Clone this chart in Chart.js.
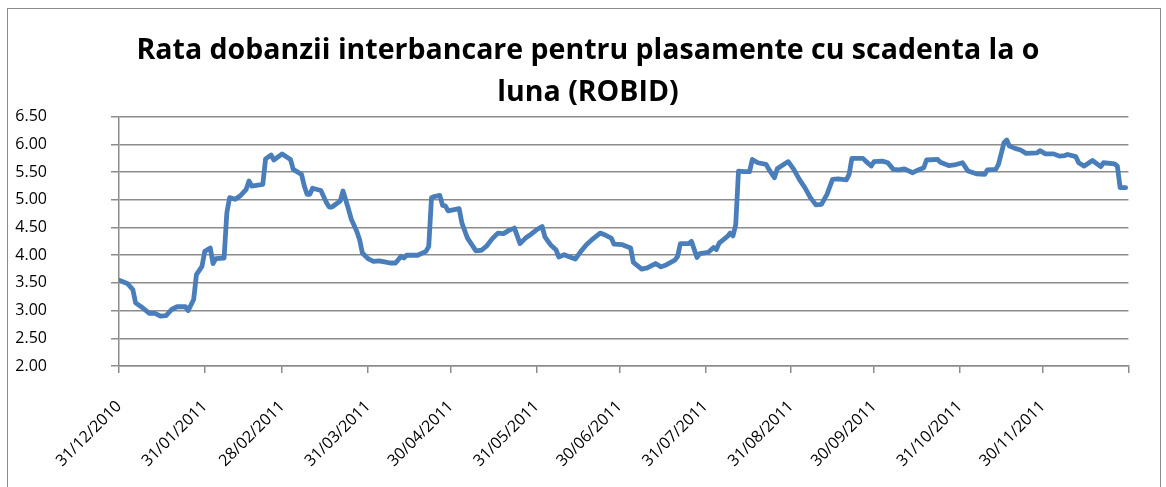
<!DOCTYPE html>
<html lang="ro">
<head>
    <meta charset="UTF-8">
    <title>ROBID 1 luna</title>
    <script src="https://cdn.jsdelivr.net/npm/chart.js"></script>
    <style>
        body {
            margin: 0;
            padding: 0;
            background: #ffffff;
            overflow: hidden;
        }

        .frame {
            position: absolute;
            left: 7px;
            top: 8px;
            width: 1152px;
            height: 520px;
            border: 1.5px solid #8c8c8c;
        }

        .wrap {
            position: absolute;
            left: 0;
            top: 0;
            width: 1166px;
            height: 487px;
        }
    </style>
</head>
<body>
    <div class="frame"></div>
    <div class="wrap">
        <canvas id="robidChart" width="1166" height="487"></canvas>
    </div>

    <script>
        // days counted from 31/12/2010
        const dayOffsets = [
            0, 3, 5, 6, 8, 11, 13, 15, 17, 19, 21, 24, 25, 27, 28, 30, 31, 33, 34, 35,
            38, 39, 40, 42, 44, 46, 47, 48, 52, 53, 55, 56, 59, 62, 63, 66, 67, 68, 69, 70,
            73, 75, 76, 77, 80, 81, 83, 84, 86, 87, 88, 90, 92, 94, 96, 98, 100, 102, 103, 104,
            108, 111, 112, 113, 114, 116, 117, 118, 119, 123, 124, 126, 128, 129, 131, 133, 135, 137, 139, 141,
            143, 145, 147, 149, 151, 153, 154, 156, 158, 159, 161, 163, 165, 167, 169, 171, 174, 176, 178, 179,
            182, 185, 186, 189, 191, 194, 196, 198, 201, 202, 203, 206, 207, 209, 210, 213, 215, 216, 217, 220,
            221, 222, 223, 224, 226, 228, 229, 231, 234, 235, 237, 238, 241, 242, 244, 246, 248, 250, 252, 254,
            256, 258, 260, 263, 264, 265, 269, 270, 272, 273, 276, 278, 280, 282, 284, 287, 289, 291, 292, 296,
            297, 300, 302, 305, 307, 310, 313, 314, 317, 318, 320, 321, 322, 324, 326, 328, 332, 333, 335, 338,
            340, 342, 343, 346, 347, 349, 352, 355, 356, 360, 361, 362, 364
        ];

        const robidValues = [
            3.55, 3.49, 3.38, 3.14, 3.07, 2.95, 2.95, 2.90, 2.91, 3.02, 3.07, 3.07, 3.00, 3.20, 3.65, 3.80, 4.07, 4.13, 3.85, 3.94,
            3.95, 4.77, 5.04, 5.01, 5.08, 5.19, 5.34, 5.25, 5.28, 5.74, 5.81, 5.72, 5.83, 5.73, 5.55, 5.46, 5.25, 5.10, 5.10, 5.21,
            5.17, 4.95, 4.87, 4.87, 4.98, 5.16, 4.83, 4.65, 4.43, 4.28, 4.04, 3.94, 3.89, 3.90, 3.88, 3.86, 3.86, 3.98, 3.95, 4.00,
            4.00, 4.07, 4.16, 5.04, 5.06, 5.08, 4.90, 4.89, 4.80, 4.84, 4.58, 4.31, 4.16, 4.08, 4.09, 4.17, 4.30, 4.40, 4.39, 4.45,
            4.49, 4.21, 4.31, 4.38, 4.46, 4.52, 4.33, 4.19, 4.10, 3.97, 4.01, 3.97, 3.93, 4.07, 4.19, 4.28, 4.40, 4.36, 4.31, 4.20,
            4.19, 4.13, 3.87, 3.75, 3.77, 3.85, 3.79, 3.83, 3.91, 3.98, 4.21, 4.21, 4.25, 3.96, 4.03, 4.05, 4.14, 4.10, 4.22, 4.34,
            4.40, 4.35, 4.55, 5.52, 5.51, 5.51, 5.73, 5.67, 5.64, 5.55, 5.40, 5.56, 5.66, 5.69, 5.55, 5.37, 5.22, 5.04, 4.91, 4.92,
            5.10, 5.37, 5.38, 5.36, 5.46, 5.75, 5.75, 5.70, 5.61, 5.69, 5.70, 5.67, 5.55, 5.54, 5.56, 5.49, 5.54, 5.58, 5.72, 5.73,
            5.68, 5.62, 5.63, 5.67, 5.52, 5.47, 5.46, 5.54, 5.55, 5.64, 6.03, 6.08, 5.97, 5.93, 5.90, 5.84, 5.85, 5.89, 5.83, 5.83,
            5.79, 5.80, 5.82, 5.78, 5.67, 5.61, 5.71, 5.60, 5.67, 5.65, 5.61, 5.22, 5.22
        ];

        // x axis ticks (month ends), last one is the axis end with no label
        const tickDays = [0, 31, 59, 90, 120, 151, 181, 212, 243, 273, 304, 334, 365];
        const tickLabels = [
            "31/12/2010", "31/01/2011", "28/02/2011", "31/03/2011", "30/04/2011", "31/05/2011",
            "30/06/2011", "31/07/2011", "31/08/2011", "30/09/2011", "31/10/2011", "30/11/2011", ""
        ];

        const titleLines = [
            "Rata dobanzii interbancare pentru plasamente cu scadenta la o",
            "luna (ROBID)"
        ];

        const points = dayOffsets.map((d, i) => ({ x: d, y: robidValues[i] }));
        const axisGray = "#8c8c8c";

        // centre the title on the whole frame, not on the area right of the y labels
        const titleShift = {
            id: "titleShift",
            afterLayout(chart) {
                if (chart.titleBlock) {
                    chart.titleBlock.left = 36;
                }
            }
        };

        const ctx = document.getElementById("robidChart").getContext("2d");
        new Chart(ctx, {
            type: "line",
            data: {
                datasets: [{
                    label: "ROBID 1M",
                    data: points,
                    borderColor: "#4a7ebb",
                    borderWidth: 4.8,
                    pointRadius: 0,
                    tension: 0,
                    borderJoinStyle: "round",
                    borderCapStyle: "round"
                }]
            },
            plugins: [titleShift],
            options: {
                responsive: false,
                animation: false,
                layout: {
                    padding: { left: 0, right: 26, top: 0, bottom: 0 }
                },
                plugins: {
                    legend: { display: false },
                    tooltip: { enabled: false },
                    title: {
                        display: true,
                        text: titleLines,
                        color: "#000000",
                        font: { family: "'Open Sans', sans-serif", size: 28.5, weight: "bold", lineHeight: 1.47 },
                        padding: { top: 30, bottom: 3 }
                    }
                },
                scales: {
                    x: {
                        type: "linear",
                        min: 0,
                        max: 365,
                        afterBuildTicks: (scale) => {
                            scale.ticks = tickDays.map(v => ({ value: v }));
                        },
                        afterFit: (scale) => {
                            scale.height = 121;
                        },
                        ticks: {
                            autoSkip: false,
                            maxRotation: 45,
                            minRotation: 45,
                            color: "#000000",
                            padding: 24,
                            font: { family: "'Open Sans', sans-serif", size: 16 },
                            callback: (value, index) => tickLabels[index]
                        },
                        grid: {
                            drawOnChartArea: false,
                            drawTicks: true,
                            tickLength: 7,
                            color: axisGray,
                            lineWidth: 1.5
                        },
                        border: { color: axisGray, width: 1.5 }
                    },
                    y: {
                        min: 2,
                        max: 6.5,
                        afterFit: (scale) => {
                            scale.width = 119;
                        },
                        ticks: {
                            stepSize: 0.5,
                            color: "#000000",
                            padding: 64,
                            font: { family: "'Open Sans', sans-serif", size: 16 },
                            callback: (value) => value.toFixed(2)
                        },
                        grid: {
                            color: axisGray,
                            lineWidth: 1.5,
                            tickLength: 8
                        },
                        border: { color: axisGray, width: 1.5 }
                    }
                }
            }
        });
    </script>
</body>
</html>
